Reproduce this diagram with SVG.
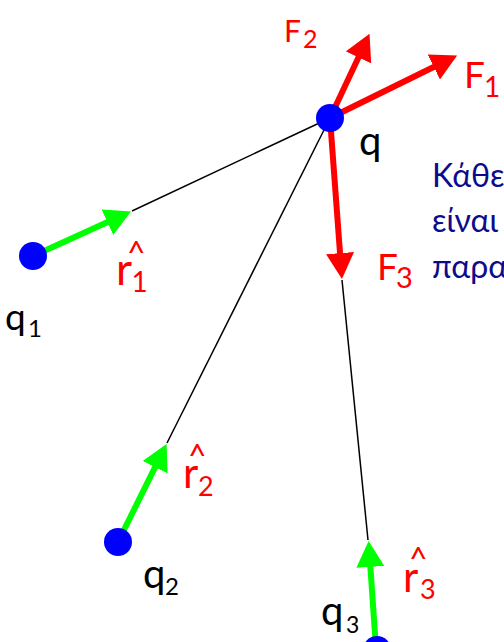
<svg xmlns="http://www.w3.org/2000/svg" width="504" height="642" viewBox="0 0 504 642">
<defs>
<style>
.charge{fill:#0000FF}
.lbl{font-family:Lato,"Open Sans","Noto Sans",sans-serif;fill:#000}
.red{font-family:Lato,"Open Sans","Noto Sans",sans-serif;fill:#FF0000}
.greek{font-family:Lato,"Noto Sans",sans-serif;fill:#0B0B8C;font-size:32px}
.force{stroke:#FF0000;stroke-width:6;fill:none;marker-end:url(#headR)}
.unit{stroke:#00FF00;stroke-width:6;fill:none;marker-end:url(#headG)}
.dist{stroke:#000;stroke-width:1.5;fill:none}
</style>
<marker id="headR" markerUnits="userSpaceOnUse" markerWidth="26" markerHeight="28" viewBox="0 0 26 28" refX="1" refY="14" orient="auto"><path d="M0,0 L26,14 L0,28 z" fill="#FF0000"/></marker>
<marker id="headG" markerUnits="userSpaceOnUse" markerWidth="26" markerHeight="28" viewBox="0 0 26 28" refX="1" refY="14" orient="auto"><path d="M0,0 L26,14 L0,28 z" fill="#00FF00"/></marker>
</defs>
<rect width="504" height="642" fill="#fff"/>
<g id="connectors">
<line class="dist" x1="330" y1="118" x2="132" y2="211"/>
<line class="dist" x1="330" y1="118" x2="167" y2="443"/>
<line class="dist" x1="342" y1="280" x2="368" y2="540"/>
<line class="force" x1="330" y1="118" x2="434.7" y2="66.5"/>
<line class="force" x1="330" y1="118" x2="358.9" y2="56.5"/>
<line class="force" x1="330" y1="118" x2="340.1" y2="254.1"/>
<line class="unit" x1="33" y1="256" x2="108.3" y2="221.8"/>
<line class="unit" x1="118" y1="542" x2="155.5" y2="466.3"/>
<line class="unit" x1="376" y1="648" x2="370.3" y2="565.9"/>
</g>
<g id="q">
<circle class="charge" cx="330" cy="118" r="14"/>
<text class="lbl" x="359" y="155" font-size="40">q</text>
</g>
<g id="q1">
<circle class="charge" cx="33" cy="256" r="14"/>
<text class="lbl" font-size="37"><tspan x="5" y="330">q</tspan><tspan x="28" y="337" font-size="24">1</tspan></text>
</g>
<g id="q2">
<circle class="charge" cx="118" cy="542" r="14"/>
<text class="lbl" font-size="40"><tspan x="143" y="588">q</tspan><tspan x="165" y="595" font-size="24">2</tspan></text>
</g>
<g id="q3">
<circle class="charge" cx="377" cy="650" r="14"/>
<text class="lbl" font-size="40"><tspan x="321" y="625">q</tspan><tspan x="346" y="633" font-size="23">3</tspan></text>
</g>
<g id="labels">
<text class="red" font-size="30"><tspan x="284" y="42">F</tspan><tspan x="303" y="48" font-size="25">2</tspan></text>
<text class="red" font-size="37"><tspan x="464" y="88">F</tspan><tspan x="484" y="97" font-size="28">1</tspan></text>
<text class="red" font-size="37"><tspan x="377" y="280">F</tspan><tspan x="396" y="288" font-size="29">3</tspan></text>
<text class="red" font-size="44"><tspan x="127" y="265" font-size="32">^</tspan><tspan x="116" y="285">r</tspan><tspan x="131.5" y="292" font-size="28">1</tspan></text>
<text class="red" font-size="42"><tspan x="188" y="468" font-size="32">^</tspan><tspan x="183" y="488">r</tspan><tspan x="198" y="496" font-size="27">2</tspan></text>
<text class="red" font-size="42"><tspan x="409" y="571" font-size="32">^</tspan><tspan x="403" y="592">r</tspan><tspan x="420" y="599" font-size="27">3</tspan></text>
</g>
<g id="note">
<text class="greek" x="432" y="187">Κάθε</text>
<text class="greek" x="432" y="232">είναι</text>
<text class="greek" x="432" y="278">παρα</text>
</g>
</svg>
